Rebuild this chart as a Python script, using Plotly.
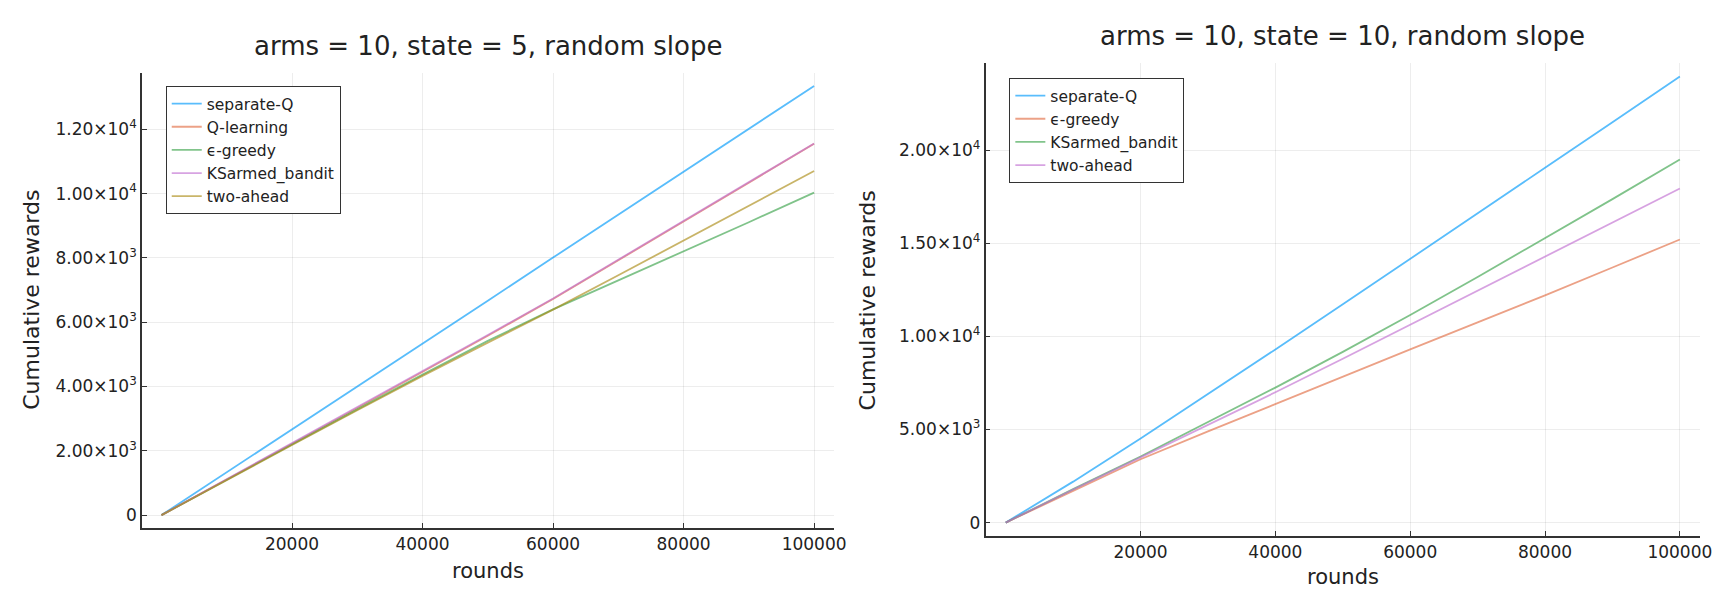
import plotly.graph_objects as go

rounds = [0, 10000, 20000, 30000, 40000, 50000, 60000, 70000, 80000, 90000, 100000]

# Left panel: arms = 10, state = 5
L_separate_q = [0, 1330, 2670, 4000, 5340, 6670, 8010, 9340, 10680, 12010, 13350]
L_q_learning = [0, 1120, 2220, 3330, 4450, 5580, 6720, 7920, 9130, 10340, 11550]
L_eps_greedy = [0, 1110, 2200, 3290, 4370, 5420, 6400, 7300, 8200, 9110, 10030]
L_ksarmed = [0, 1120, 2230, 3340, 4470, 5600, 6740, 7940, 9150, 10350, 11560]
L_two_ahead = [0, 1100, 2180, 3260, 4330, 5360, 6390, 7460, 8540, 9620, 10700]

# Right panel: arms = 10, state = 10
R_separate_q = [0, 2200, 4520, 6900, 9300, 11720, 14150, 16600, 19050, 21500, 23960]
R_eps_greedy = [0, 1720, 3400, 4900, 6380, 7850, 9300, 10750, 12200, 13700, 15200]
R_ksarmed = [0, 1800, 3550, 5380, 7250, 9170, 11150, 13190, 15260, 17370, 19500]
R_two_ahead = [0, 1780, 3500, 5250, 7000, 8800, 10620, 12460, 14300, 16120, 17940]

x_tickvals = [20000, 40000, 60000, 80000, 100000]
x_ticktext = ["20000", "40000", "60000", "80000", "100000"]
L_y_tickvals = [0, 2000, 4000, 6000, 8000, 10000, 12000]
L_y_ticktext = ["0", "2.00×10<sup>3</sup>", "4.00×10<sup>3</sup>", "6.00×10<sup>3</sup>",
                "8.00×10<sup>3</sup>", "1.00×10<sup>4</sup>", "1.20×10<sup>4</sup>"]
R_y_tickvals = [0, 5000, 10000, 15000, 20000]
R_y_ticktext = ["0", "5.00×10<sup>3</sup>", "1.00×10<sup>4</sup>", "1.50×10<sup>4</sup>", "2.00×10<sup>4</sup>"]

C_BLUE = "#009afa"
C_ORANGE = "#e26f46"
C_GREEN = "#3da44d"
C_PURPLE = "#c271d2"
C_GOLD = "#ac8d18"

FONT = "DejaVu Sans"
W, H = 1725, 591

fig = go.Figure()

def add(x, y, name, color, xa, ya, legend):
    fig.add_trace(go.Scatter(x=x, y=y, name=name, mode="lines",
                             line=dict(color=color, width=1.8), opacity=0.65,
                             xaxis=xa, yaxis=ya, legend=legend))

add(rounds, L_separate_q, "separate-Q", C_BLUE, "x", "y", "legend")
add(rounds, L_q_learning, "Q-learning", C_ORANGE, "x", "y", "legend")
add(rounds, L_eps_greedy, "ϵ-greedy", C_GREEN, "x", "y", "legend")
add(rounds, L_ksarmed, "KSarmed_bandit", C_PURPLE, "x", "y", "legend")
add(rounds, L_two_ahead, "two-ahead", C_GOLD, "x", "y", "legend")

add(rounds, R_separate_q, "separate-Q", C_BLUE, "x2", "y2", "legend2")
add(rounds, R_eps_greedy, "ϵ-greedy", C_ORANGE, "x2", "y2", "legend2")
add(rounds, R_ksarmed, "KSarmed_bandit", C_GREEN, "x2", "y2", "legend2")
add(rounds, R_two_ahead, "two-ahead", C_PURPLE, "x2", "y2", "legend2")

def ax_common():
    return dict(showline=True, linecolor="#333333", linewidth=1.5, mirror=False,
                ticks="inside", ticklen=5, tickcolor="#333333", tickwidth=1,
                showgrid=True, gridcolor="rgba(0,0,0,0.07)", gridwidth=1,
                zeroline=False, tickfont=dict(family=FONT, size=17, color="#222222"))

L_max = max(L_separate_q)
R_max = max(R_separate_q)

fig.update_layout(
    width=W, height=H, margin=dict(l=0, r=0, t=0, b=0),
    paper_bgcolor="white", plot_bgcolor="white",
    font=dict(family=FONT, color="#222222"),
    xaxis=dict(domain=[143 / W, 840 / W], range=[-3000, 103000],
               tickvals=x_tickvals, ticktext=x_ticktext, anchor="y", **ax_common()),
    yaxis=dict(domain=[1 - 528 / H, 1 - 73 / H], range=[-0.03 * L_max, 1.03 * L_max],
               tickvals=L_y_tickvals, ticktext=L_y_ticktext, anchor="x", **ax_common()),
    xaxis2=dict(domain=[993 / W, 1713 / W], range=[-3000, 103000],
                tickvals=x_tickvals, ticktext=x_ticktext, anchor="y2", **ax_common()),
    yaxis2=dict(domain=[1 - 536 / H, 1 - 63 / H], range=[-0.03 * R_max, 1.03 * R_max],
                tickvals=R_y_tickvals, ticktext=R_y_ticktext, anchor="x2", **ax_common()),
    legend=dict(x=167 / W, y=1 - 86 / H, xanchor="left", yanchor="top",
                bgcolor="white", bordercolor="#333333", borderwidth=1,
                font=dict(family=FONT, size=15.5, color="#222222"), tracegroupgap=0),
    legend2=dict(x=1017 / W, y=1 - 78 / H, xanchor="left", yanchor="top",
                 bgcolor="white", bordercolor="#333333", borderwidth=1,
                 font=dict(family=FONT, size=15.5, color="#222222"), tracegroupgap=0),
    showlegend=True,
)

annotations = [
    dict(text="arms = 10, state = 5, random slope", x=492 / W, y=1 - 46 / H,
         font=dict(size=26)),
    dict(text="arms = 10, state = 10, random slope", x=1353 / W, y=1 - 36 / H,
         font=dict(size=26)),
    dict(text="rounds", x=492 / W, y=1 - 571 / H, font=dict(size=21)),
    dict(text="rounds", x=1353 / W, y=1 - 577 / H, font=dict(size=21)),
    dict(text="Cumulative rewards", x=31 / W, y=1 - 300 / H, textangle=-90, font=dict(size=22)),
    dict(text="Cumulative rewards", x=874 / W, y=1 - 300 / H, textangle=-90, font=dict(size=22)),
]
for a in annotations:
    a.update(xref="paper", yref="paper", showarrow=False, xanchor="center", yanchor="middle")
    a["font"].update(family=FONT, color="#222222")
fig.update_layout(annotations=annotations)

fig.write_html("out.html")
